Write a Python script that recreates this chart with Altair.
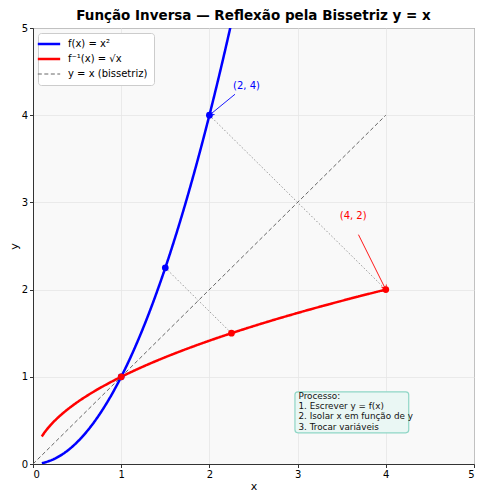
import altair as alt
import numpy as np
import pandas as pd

FONT = "DejaVu Sans"

# --- data ---
series_names = ["f(x) = x²", "f⁻¹(x) = √x", "y = x (bissetriz)"]
series_colors = ["#0000ff", "#ff0000", "#666666"]
series_widths = [2.5, 2.5, 1.0]

x_f = np.linspace(0.1, 2.6, 120)
y_f = x_f ** 2
x_g = np.linspace(0.1, 4.0, 160)
y_g = np.sqrt(x_g)
x_id = [0.0, 4.0]
y_id = [0.0, 4.0]

pts_f_x = [1.0, 1.5, 2.0]
pts_f_y = [1.0, 2.25, 4.0]
pts_g_x = [1.0, 2.25, 4.0]
pts_g_y = [1.0, 1.5, 2.0]

pair_ids = [1, 1, 2, 2]
pair_x = [1.5, 2.25, 2.0, 4.0]
pair_y = [2.25, 1.5, 4.0, 2.0]

ann_labels = ["(2, 4)", "(4, 2)"]
ann_colors = ["#0000ff", "#ff0000"]
ann_text_x = [2.42, 3.63]
ann_text_y = [4.34, 2.84]
ann_from_x = [2.29, 3.69]
ann_from_y = [4.24, 2.63]
ann_to_x = [2.0, 4.0]
ann_to_y = [4.0, 2.0]
ann_angle = [230, 154]

box_lines = ["Processo:", "1. Escrever y = f(x)", "2. Isolar x em função de y", "3. Trocar variáveis"]
box_line_y = [0.775, 0.66, 0.545, 0.43]

# --- tables ---
curves = pd.concat([
    pd.DataFrame({"x": x_f, "y": y_f, "serie": series_names[0], "w": series_widths[0], "o": np.arange(len(x_f))}),
    pd.DataFrame({"x": x_g, "y": y_g, "serie": series_names[1], "w": series_widths[1], "o": np.arange(len(x_g))}),
    pd.DataFrame({"x": x_id, "y": y_id, "serie": series_names[2], "w": series_widths[2], "o": [0, 1]}),
])
pts = pd.DataFrame({
    "x": pts_f_x + pts_g_x, "y": pts_f_y + pts_g_y,
    "c": ["#0000ff"] * 3 + ["#ff0000"] * 3,
})
pairs = pd.DataFrame({"x": pair_x, "y": pair_y, "pid": pair_ids})
ann = pd.DataFrame({"label": ann_labels, "c": ann_colors, "tx": ann_text_x, "ty": ann_text_y,
                    "fx": ann_from_x, "fy": ann_from_y, "x": ann_to_x, "y": ann_to_y,
                    "ang": ann_angle})
box = pd.DataFrame({"x": [2.97], "x2": [4.26], "y": [0.828], "y2": [0.358]})
boxtxt = pd.DataFrame({"t": box_lines, "y": box_line_y, "x": [3.01] * 4})

xs = alt.Scale(domain=[0, 5], nice=False)
ys = alt.Scale(domain=[0, 5], nice=False)
X = alt.X("x:Q", scale=xs, title="x", axis=alt.Axis(values=[0, 1, 2, 3, 4, 5], format="d"))
Y = alt.Y("y:Q", scale=ys, title="y", axis=alt.Axis(values=[0, 1, 2, 3, 4, 5], format="d"))

leg_sw = "datum.value === '" + series_names[2] + "' ? 1 : 2.5"
legend = alt.Legend(title=None, orient="top-left", symbolStrokeWidth=alt.ExprRef(leg_sw))

lines = alt.Chart(curves).mark_line(clip=True).encode(
    x=X, y=Y, order="o:Q",
    color=alt.Color("serie:N", scale=alt.Scale(domain=series_names, range=series_colors), legend=legend),
    strokeDash=alt.StrokeDash("serie:N", scale=alt.Scale(domain=series_names, range=[[1, 0], [1, 0], [4, 2.5]]),
                              legend=legend),
    strokeWidth=alt.StrokeWidth("w:Q", scale=None, legend=None),
)

pairlines = alt.Chart(pairs).mark_line(color="#999999", strokeWidth=1, strokeDash=[1.5, 2]).encode(
    x="x:Q", y="y:Q", detail="pid:N")

points = alt.Chart(pts).mark_circle(size=45, opacity=1).encode(
    x="x:Q", y="y:Q", color=alt.Color("c:N", scale=None))

arrows = alt.Chart(ann).mark_rule(strokeWidth=0.9).encode(
    x="fx:Q", y="fy:Q", x2="x:Q", y2="y:Q", color=alt.Color("c:N", scale=None))
heads = alt.Chart(ann).mark_point(shape="M -1 1.6 L 0 0 L 1 1.6", filled=False, size=30, strokeWidth=0.9, opacity=1).encode(
    x="x:Q", y="y:Q", angle=alt.Angle("ang:Q", scale=None), color=alt.Color("c:N", scale=None))
anntext = alt.Chart(ann).mark_text(font=FONT, fontSize=10).encode(
    x="tx:Q", y="ty:Q", text="label:N", color=alt.Color("c:N", scale=None))

rect = alt.Chart(box).mark_rect(fill="#eaf7f4", stroke="#8fd6c6", strokeWidth=1.2, cornerRadius=3).encode(
    x="x:Q", x2="x2:Q", y="y:Q", y2="y2:Q")
btext = alt.Chart(boxtxt).mark_text(font=FONT, fontSize=8.8, align="left", baseline="middle", color="#111111").encode(
    x="x:Q", y="y:Q", text="t:N")

chart = alt.layer(pairlines, lines, arrows, heads, points, anntext, rect, btext).properties(
    width=441, height=436,
    title=alt.Title("Função Inversa — Reflexão pela Bissetriz y = x", font=FONT, fontSize=13.5,
                    fontWeight="bold", color="#000000", offset=1),
    autosize=alt.AutoSizeParams(type="none"),
    padding={"left": 25, "top": 20, "right": 4, "bottom": 28},
).configure_view(
    fill="#f9f9f9", stroke="#333333", strokeWidth=1
).configure_axis(
    labelFont=FONT, titleFont=FONT, labelFontSize=10, titleFontSize=11, titleFontWeight="normal",
    labelColor="#000000", titleColor="#000000", gridColor="#e6e6e6", gridWidth=0.8,
    domainColor="#333333", tickColor="#333333", tickSize=3.5, labelPadding=2,
).configure_axisX(titlePadding=1).configure_axisY(titlePadding=2, labelAngle=0).configure_legend(
    labelFont=FONT, labelFontSize=10, labelColor="#000000", fillColor="#ffffff", strokeColor="#cccccc",
    padding=6, cornerRadius=3, symbolType="stroke", symbolSize=500, offset=5, rowPadding=5,
    labelOffset=14
)

chart.save("out.html", embed_options={"renderer": "svg", "actions": False})
